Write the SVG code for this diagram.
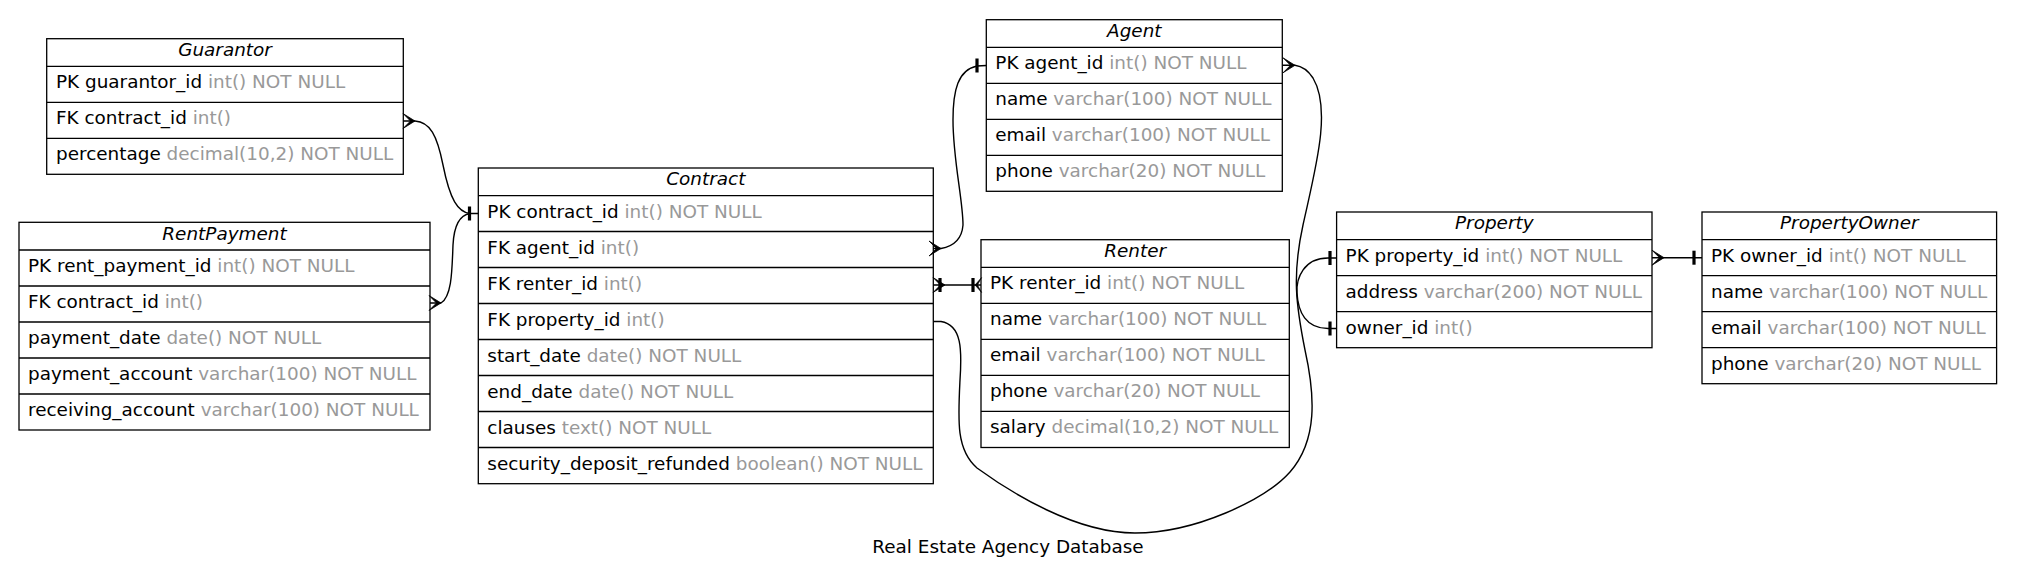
<svg xmlns="http://www.w3.org/2000/svg" xmlns:xlink="http://www.w3.org/1999/xlink" width="2017" height="584" viewBox="0 0 2017 584">
<style>
.box{fill:#fff;stroke:#000;stroke-width:1.3}
.ln{stroke:#000;stroke-width:1.3}
.h{font-family:"DejaVu Sans",sans-serif;font-style:italic;font-size:18.4px;text-anchor:middle;fill:#000}
.t{font-family:"DejaVu Sans",sans-serif;font-size:18.4px;fill:#000}
.g{fill:#999}
.e{fill:none;stroke:#000;stroke-width:1.4}
.tee{stroke:#000;stroke-width:3.2}
.crow{fill:#000;stroke:#000;stroke-width:0.8}
.title{font-family:"DejaVu Sans",sans-serif;font-size:18.4px;text-anchor:middle;fill:#000}
</style>
<defs>
<path id="crow" class="crow" d="M0,0 L-12,-7.5 L-4.5,0 L-12,7.5 Z"/>
</defs>

<g id="Guarantor">
<rect class="box" x="46.7" y="38.7" width="356.6" height="135.6"/>
<line class="ln" x1="46.7" y1="66.3" x2="403.3" y2="66.3"/>
<line class="ln" x1="46.7" y1="102.3" x2="403.3" y2="102.3"/>
<line class="ln" x1="46.7" y1="138.3" x2="403.3" y2="138.3"/>
<text class="h" x="225" y="56">Guarantor</text>
<text class="t" x="56" y="88.3">PK guarantor_id<tspan class="g"> int() NOT NULL</tspan></text>
<text class="t" x="56" y="124.3">FK contract_id<tspan class="g"> int()</tspan></text>
<text class="t" x="56" y="160.3">percentage<tspan class="g"> decimal(10,2) NOT NULL</tspan></text>
</g>

<g id="RentPayment">
<rect class="box" x="19" y="222.3" width="411" height="207.7"/>
<line class="ln" x1="19" y1="250" x2="430" y2="250"/>
<line class="ln" x1="19" y1="286" x2="430" y2="286"/>
<line class="ln" x1="19" y1="322" x2="430" y2="322"/>
<line class="ln" x1="19" y1="358" x2="430" y2="358"/>
<line class="ln" x1="19" y1="394" x2="430" y2="394"/>
<text class="h" x="224.5" y="239.5">RentPayment</text>
<text class="t" x="28" y="272">PK rent_payment_id<tspan class="g"> int() NOT NULL</tspan></text>
<text class="t" x="28" y="308">FK contract_id<tspan class="g"> int()</tspan></text>
<text class="t" x="28" y="344">payment_date<tspan class="g"> date() NOT NULL</tspan></text>
<text class="t" x="28" y="380">payment_account<tspan class="g"> varchar(100) NOT NULL</tspan></text>
<text class="t" x="28" y="416">receiving_account<tspan class="g"> varchar(100) NOT NULL</tspan></text>
</g>

<g id="Contract">
<rect class="box" x="478.3" y="168" width="455" height="315.7"/>
<line class="ln" x1="478.3" y1="195.7" x2="933.3" y2="195.7"/>
<line class="ln" x1="478.3" y1="231.5" x2="933.3" y2="231.5"/>
<line class="ln" x1="478.3" y1="267.5" x2="933.3" y2="267.5"/>
<line class="ln" x1="478.3" y1="303.5" x2="933.3" y2="303.5"/>
<line class="ln" x1="478.3" y1="339.5" x2="933.3" y2="339.5"/>
<line class="ln" x1="478.3" y1="375.5" x2="933.3" y2="375.5"/>
<line class="ln" x1="478.3" y1="411.5" x2="933.3" y2="411.5"/>
<line class="ln" x1="478.3" y1="447.5" x2="933.3" y2="447.5"/>
<text class="h" x="705.8" y="185">Contract</text>
<text class="t" x="487.3" y="217.7">PK contract_id<tspan class="g"> int() NOT NULL</tspan></text>
<text class="t" x="487.3" y="253.5">FK agent_id<tspan class="g"> int()</tspan></text>
<text class="t" x="487.3" y="289.5">FK renter_id<tspan class="g"> int()</tspan></text>
<text class="t" x="487.3" y="325.5">FK property_id<tspan class="g"> int()</tspan></text>
<text class="t" x="487.3" y="361.5">start_date<tspan class="g"> date() NOT NULL</tspan></text>
<text class="t" x="487.3" y="397.5">end_date<tspan class="g"> date() NOT NULL</tspan></text>
<text class="t" x="487.3" y="433.5">clauses<tspan class="g"> text() NOT NULL</tspan></text>
<text class="t" x="487.3" y="469.5">security_deposit_refunded<tspan class="g"> boolean() NOT NULL</tspan></text>
</g>

<g id="Agent">
<rect class="box" x="986.3" y="19.7" width="296" height="171.6"/>
<line class="ln" x1="986.3" y1="47.3" x2="1282.3" y2="47.3"/>
<line class="ln" x1="986.3" y1="83.3" x2="1282.3" y2="83.3"/>
<line class="ln" x1="986.3" y1="119.3" x2="1282.3" y2="119.3"/>
<line class="ln" x1="986.3" y1="155.3" x2="1282.3" y2="155.3"/>
<text class="h" x="1134.3" y="37">Agent</text>
<text class="t" x="995.3" y="69.3">PK agent_id<tspan class="g"> int() NOT NULL</tspan></text>
<text class="t" x="995.3" y="105.3">name<tspan class="g"> varchar(100) NOT NULL</tspan></text>
<text class="t" x="995.3" y="141.3">email<tspan class="g"> varchar(100) NOT NULL</tspan></text>
<text class="t" x="995.3" y="177.3">phone<tspan class="g"> varchar(20) NOT NULL</tspan></text>
</g>

<g id="Renter">
<rect class="box" x="981" y="239.7" width="308.3" height="207.8"/>
<line class="ln" x1="981" y1="267.3" x2="1289.3" y2="267.3"/>
<line class="ln" x1="981" y1="303.3" x2="1289.3" y2="303.3"/>
<line class="ln" x1="981" y1="339.3" x2="1289.3" y2="339.3"/>
<line class="ln" x1="981" y1="375.3" x2="1289.3" y2="375.3"/>
<line class="ln" x1="981" y1="411.3" x2="1289.3" y2="411.3"/>
<text class="h" x="1135.2" y="257">Renter</text>
<text class="t" x="990" y="289.3">PK renter_id<tspan class="g"> int() NOT NULL</tspan></text>
<text class="t" x="990" y="325.3">name<tspan class="g"> varchar(100) NOT NULL</tspan></text>
<text class="t" x="990" y="361.3">email<tspan class="g"> varchar(100) NOT NULL</tspan></text>
<text class="t" x="990" y="397.3">phone<tspan class="g"> varchar(20) NOT NULL</tspan></text>
<text class="t" x="990" y="433.3">salary<tspan class="g"> decimal(10,2) NOT NULL</tspan></text>
</g>

<g id="Property">
<rect class="box" x="1336.6" y="212" width="315.4" height="135.7"/>
<line class="ln" x1="1336.6" y1="239.7" x2="1652" y2="239.7"/>
<line class="ln" x1="1336.6" y1="275.7" x2="1652" y2="275.7"/>
<line class="ln" x1="1336.6" y1="311.7" x2="1652" y2="311.7"/>
<text class="h" x="1494.3" y="229.3">Property</text>
<text class="t" x="1345.6" y="261.7">PK property_id<tspan class="g"> int() NOT NULL</tspan></text>
<text class="t" x="1345.6" y="297.7">address<tspan class="g"> varchar(200) NOT NULL</tspan></text>
<text class="t" x="1345.6" y="333.7">owner_id<tspan class="g"> int()</tspan></text>
</g>

<g id="PropertyOwner">
<rect class="box" x="1702" y="212" width="294.6" height="171.7"/>
<line class="ln" x1="1702" y1="239.7" x2="1996.6" y2="239.7"/>
<line class="ln" x1="1702" y1="275.7" x2="1996.6" y2="275.7"/>
<line class="ln" x1="1702" y1="311.7" x2="1996.6" y2="311.7"/>
<line class="ln" x1="1702" y1="347.7" x2="1996.6" y2="347.7"/>
<text class="h" x="1849.3" y="229.3">PropertyOwner</text>
<text class="t" x="1711" y="261.7">PK owner_id<tspan class="g"> int() NOT NULL</tspan></text>
<text class="t" x="1711" y="297.7">name<tspan class="g"> varchar(100) NOT NULL</tspan></text>
<text class="t" x="1711" y="333.7">email<tspan class="g"> varchar(100) NOT NULL</tspan></text>
<text class="t" x="1711" y="369.7">phone<tspan class="g"> varchar(20) NOT NULL</tspan></text>
</g>

<g id="connectors">
<path class="e" d="M403.3,121 L415,121 C430,122 437,135 443,165 C450,200 458,212 470,213.5 L478.3,213.5"/>
<use xlink:href="#crow" href="#crow" transform="translate(415,121)"/>
<path class="e" d="M430,303 L441,303 C452,296 452,270 453,245 C454,225 460,215 470,213.5"/>
<use xlink:href="#crow" href="#crow" transform="translate(441,303)"/>
<line class="tee" x1="469.5" y1="206.5" x2="469.5" y2="220.5"/>
<path class="e" d="M933.3,248.5 L941,248.5 C955,246 962,238 963,225 C963,200 953,160 953,120 C953,90 958,70 977,66 L986.3,65.5"/>
<use xlink:href="#crow" href="#crow" transform="translate(941,248.5)"/>
<line class="tee" x1="977" y1="58.5" x2="977" y2="72.5"/>
<path class="e" d="M933.3,285 L981,285"/>
<use xlink:href="#crow" href="#crow" transform="translate(945,285)"/>
<line class="tee" x1="940" y1="278" x2="940" y2="292"/>
<use xlink:href="#crow" href="#crow" transform="translate(975,285) scale(-0.55,1)"/>
<line class="tee" x1="973" y1="278" x2="973" y2="292"/>
<path class="e" d="M933.3,321.5 L941,321.5 C962,325 962,350 960,380 C958,420 956,450 977,468 C1010,492 1075,533 1135,533 C1195,533 1265,500 1290,472 C1318,440 1315,395 1305,350 C1296,305 1292,275 1303,225 C1315,170 1332,110 1313,78 C1307,69 1300,66 1295,65.3 L1282.3,65.3"/>
<use xlink:href="#crow" href="#crow" transform="translate(1295,65.3)"/>
<path class="e" d="M1336.6,258 L1328,258 C1304,258 1296,278 1297,293 C1298,312 1306,328.5 1328,328.5 L1336.6,328.5"/>
<line class="tee" x1="1330" y1="251" x2="1330" y2="265"/>
<line class="tee" x1="1330" y1="321.5" x2="1330" y2="335.5"/>
<path class="e" d="M1652,257.7 L1702,257.7"/>
<use xlink:href="#crow" href="#crow" transform="translate(1664,257.7)"/>
<line class="tee" x1="1694" y1="250.7" x2="1694" y2="264.7"/>
</g>

<text class="title" x="1008" y="553">Real Estate Agency Database</text>
</svg>
